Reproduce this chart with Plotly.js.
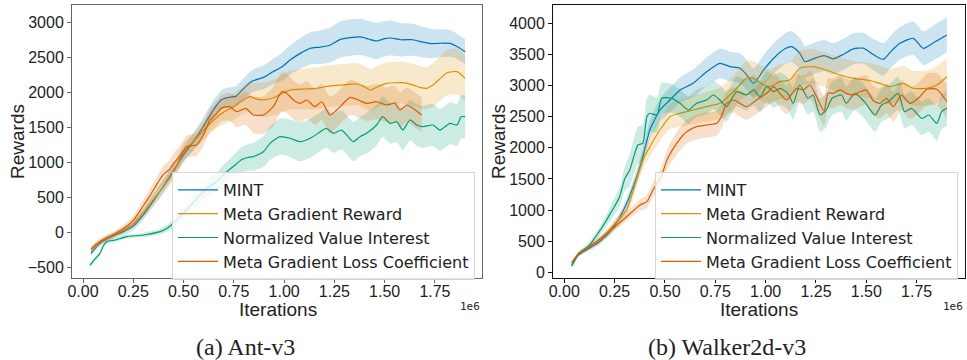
<!DOCTYPE html>
<html>
<head>
<meta charset="utf-8">
<script src="https://cdn.plot.ly/plotly-3.0.1.min.js"></script>
<style>html,body{margin:0;padding:0;background:#fff;}#chart{width:967px;height:360px;}</style>
</head>
<body>
<div id="chart"></div>
<script>
// ---- Data (x in units of 1e6 iterations) ----
const seriesNames = ["MINT", "Meta Gradient Reward", "Normalized Value Interest", "Meta Gradient Loss Coefficient"];
const seriesColors = ["#0173B2", "#DE8F05", "#029E73", "#D55E00"];
const bandColors = ["rgba(1,115,178,0.2)", "rgba(222,143,5,0.2)", "rgba(2,158,115,0.2)", "rgba(213,94,0,0.2)"];

// Ant-v3
const ant_mint_x = [0.04,0.08,0.12,0.16,0.20,0.25,0.30,0.35,0.40,0.45,0.50,0.55,0.60,0.65,0.69,0.73,0.76,0.80,0.84,0.90,0.94,0.99,1.03,1.08,1.13,1.18,1.23,1.28,1.34,1.38,1.42,1.46,1.50,1.53,1.58,1.64,1.69,1.73,1.78,1.83,1.87,1.90];
const ant_mint_y = [-300,-170,-90,-40,10,90,250,450,660,880,1110,1300,1520,1760,1900,1935,1945,2060,2160,2220,2290,2370,2465,2560,2632,2650,2680,2760,2790,2795,2765,2737,2770,2780,2755,2755,2720,2700,2705,2700,2640,2584];
const ant_mint_band = [40,40,40,40,50,60,70,80,90,100,110,120,130,135,140,140,145,150,160,170,180,200,210,220,230,240,250,260,260,260,260,260,250,250,240,230,220,210,200,190,180,180];

const ant_mgr_x = [0.04,0.08,0.12,0.16,0.20,0.25,0.30,0.35,0.40,0.45,0.50,0.55,0.60,0.65,0.70,0.75,0.80,0.83,0.86,0.90,0.96,1.00,1.03,1.10,1.16,1.22,1.29,1.36,1.40,1.43,1.47,1.51,1.59,1.64,1.675,1.71,1.74,1.78,1.81,1.86,1.90];
const ant_mgr_y = [-250,-150,-80,-30,30,120,280,470,650,860,1150,1300,1460,1607,1720,1800,1900,1940,1910,1895,1940,2000,2036,2050,2060,2090,2107,2122,2080,2036,2090,2131,2140,2110,2074,2060,2107,2210,2283,2298,2203];
const ant_mgr_band = [40,40,40,40,50,60,70,90,100,110,120,130,140,150,170,190,200,220,230,250,260,270,280,290,300,300,300,300,300,300,300,300,300,300,300,300,310,320,330,330,330];

const ant_nvi_x = [0.035,0.06,0.085,0.10,0.118,0.16,0.217,0.30,0.383,0.42,0.449,0.48,0.515,0.55,0.582,0.62,0.665,0.70,0.747,0.79,0.82,0.847,0.897,0.93,0.98,1.03,1.08,1.13,1.18,1.21,1.245,1.286,1.344,1.377,1.41,1.46,1.49,1.527,1.56,1.59,1.626,1.66,1.69,1.74,1.775,1.825,1.86,1.88,1.90];
const ant_nvi_y = [-468,-380,-300,-200,-134,-110,-63,-39,9,60,129,220,319,430,534,640,724,830,940,1040,1070,1082,1153,1273,1368,1345,1296,1345,1439,1488,1416,1463,1296,1368,1416,1535,1654,1559,1582,1463,1607,1535,1511,1535,1463,1559,1535,1654,1654];
const ant_nvi_band = [30,30,30,30,30,30,30,30,40,50,60,70,80,100,110,120,130,140,160,180,190,200,220,240,260,270,280,280,280,280,280,280,280,280,290,290,290,290,290,290,290,300,300,300,300,300,300,310,310];

const ant_mglc_x = [0.04,0.08,0.12,0.16,0.20,0.25,0.30,0.33,0.37,0.40,0.43,0.45,0.48,0.515,0.54,0.565,0.60,0.63,0.665,0.69,0.73,0.764,0.81,0.847,0.897,0.946,0.988,1.013,1.046,1.08,1.112,1.153,1.187,1.228,1.262,1.311,1.33,1.37,1.41,1.46,1.51,1.55,1.576,1.61,1.64,1.684];
const ant_mglc_y = [-240,-140,-80,-20,50,170,380,510,700,830,900,987,1080,1225,1240,1250,1400,1600,1700,1780,1797,1725,1774,1678,1678,1797,2011,1989,1893,1845,1893,1797,1868,1678,1750,1893,1931,1893,1845,1868,1821,1845,1750,1821,1774,1678];
const ant_mglc_band = [40,40,40,40,50,70,90,100,110,120,130,140,150,160,160,160,160,170,180,190,200,220,240,260,270,280,280,280,280,270,270,260,260,260,250,250,250,250,250,250,250,250,250,250,250,250];

// Walker2d-v3
const wlk_mint_x = [0.037,0.07,0.12,0.17,0.22,0.27,0.31,0.36,0.39,0.425,0.475,0.525,0.575,0.64,0.707,0.773,0.823,0.872,0.906,0.94,0.99,1.04,1.096,1.13,1.17,1.195,1.245,1.29,1.336,1.385,1.435,1.485,1.534,1.584,1.626,1.667,1.733,1.783,1.84,1.90];
const wlk_mint_y = [110,280,380,480,630,850,1108,1536,1850,2286,2607,2768,2929,3036,3222,3357,3303,3277,3170,3036,3250,3438,3590,3624,3518,3383,3440,3480,3430,3500,3590,3600,3500,3420,3560,3679,3759,3598,3700,3812];
const wlk_mint_band = [30,30,40,50,60,70,90,110,130,150,180,200,200,220,230,240,240,240,240,240,240,240,250,250,250,250,250,250,250,250,250,250,250,260,260,260,270,270,280,280];

const wlk_mgr_x = [0.037,0.07,0.12,0.17,0.22,0.27,0.31,0.36,0.39,0.425,0.475,0.525,0.575,0.64,0.707,0.773,0.84,0.906,0.94,0.99,1.02,1.07,1.12,1.17,1.236,1.30,1.37,1.435,1.50,1.567,1.617,1.683,1.733,1.80,1.85,1.90];
const wlk_mgr_y = [150,300,400,510,660,850,1000,1500,1800,2018,2286,2500,2554,2607,2661,2714,2900,3120,3116,3009,2982,3062,3089,3277,3303,3250,3170,3116,3089,3036,2982,3036,2956,2956,3009,3142];
const wlk_mgr_band = [30,30,40,50,60,80,100,120,140,160,180,200,220,230,240,250,260,270,280,280,280,280,280,280,280,280,280,280,280,280,280,280,280,290,300,300];

const wlk_nvi_x = [0.037,0.07,0.12,0.19,0.23,0.275,0.30,0.325,0.366,0.39,0.41,0.425,0.46,0.484,0.533,0.575,0.616,0.657,0.707,0.74,0.773,0.806,0.856,0.906,0.94,0.972,1.005,1.04,1.07,1.11,1.137,1.17,1.21,1.236,1.27,1.30,1.33,1.377,1.40,1.443,1.49,1.543,1.576,1.61,1.658,1.69,1.725,1.775,1.81,1.85,1.874,1.90];
const wlk_nvi_y = [100,290,420,733,950,1215,1500,1643,2045,2072,2500,2554,2527,2795,2795,2714,2607,2714,2768,2848,2768,2661,2902,2848,2929,2821,2982,2902,2955,2875,2714,3009,2795,2848,2527,2600,2795,2848,2714,2875,2741,2527,2687,2741,2875,2580,2634,2473,2527,2393,2580,2634];
const wlk_nvi_band = [30,40,50,80,120,150,200,250,300,300,300,300,280,250,230,220,220,220,230,230,240,240,240,250,250,250,250,260,260,260,260,260,260,270,270,270,270,270,270,270,270,270,270,270,270,270,270,270,270,280,280,280];

const wlk_mglc_x = [0.037,0.07,0.10,0.16,0.243,0.31,0.376,0.41,0.44,0.484,0.51,0.558,0.608,0.657,0.707,0.757,0.78,0.806,0.84,0.872,0.906,0.955,1.005,1.04,1.07,1.104,1.154,1.187,1.22,1.253,1.29,1.31,1.336,1.37,1.40,1.435,1.468,1.50,1.534,1.567,1.60,1.634,1.675,1.716,1.766,1.80,1.85,1.90];
const wlk_mglc_y = [150,290,360,492,707,893,1081,1134,1322,1560,1804,2072,2259,2339,2366,2393,2500,2714,2768,2714,2661,2768,2875,2982,2875,2768,2955,2929,3009,2821,2590,2880,2875,2929,2875,2850,2900,2929,2760,2714,2795,2661,2848,2714,2821,2940,2940,2741];
const wlk_mglc_band = [30,30,30,40,60,70,90,100,120,140,160,180,190,200,200,200,200,200,200,210,210,220,220,230,230,230,230,230,230,230,240,240,240,240,240,240,240,240,240,240,240,240,240,250,250,250,260,270];

const xTickVals = [0, 0.25, 0.5, 0.75, 1.0, 1.25, 1.5, 1.75];
const antYTicks = [-500, 0, 500, 1000, 1500, 2000, 2500, 3000];
const wlkYTicks = [0, 500, 1000, 1500, 2000, 2500, 3000, 3500, 4000];

// ---- Build traces ----
const traces = [];
function addSeries(x, y, band, idx, xa, ya, legendId) {
  const up = y.map((v, i) => v + band[i]);
  const lo = y.map((v, i) => v - band[i]);
  traces.push({x: x, y: up, xaxis: xa, yaxis: ya, mode: 'lines', line: {width: 0, color: seriesColors[idx], shape: 'spline', smoothing: 0.6}, showlegend: false, hoverinfo: 'skip'});
  traces.push({x: x, y: lo, xaxis: xa, yaxis: ya, mode: 'lines', line: {width: 0, color: seriesColors[idx], shape: 'spline', smoothing: 0.6}, fill: 'tonexty', fillcolor: bandColors[idx], showlegend: false, hoverinfo: 'skip'});
  traces.push({x: x, y: y, xaxis: xa, yaxis: ya, mode: 'lines', name: seriesNames[idx], legend: legendId, line: {width: 1.2, color: seriesColors[idx], shape: 'spline', smoothing: 0.6}});
}
addSeries(ant_mint_x, ant_mint_y, ant_mint_band, 0, 'x', 'y', 'legend');
addSeries(ant_mgr_x, ant_mgr_y, ant_mgr_band, 1, 'x', 'y', 'legend');
addSeries(ant_nvi_x, ant_nvi_y, ant_nvi_band, 2, 'x', 'y', 'legend');
addSeries(ant_mglc_x, ant_mglc_y, ant_mglc_band, 3, 'x', 'y', 'legend');
addSeries(wlk_mint_x, wlk_mint_y, wlk_mint_band, 0, 'x2', 'y2', 'legend2');
addSeries(wlk_mgr_x, wlk_mgr_y, wlk_mgr_band, 1, 'x2', 'y2', 'legend2');
addSeries(wlk_nvi_x, wlk_nvi_y, wlk_nvi_band, 2, 'x2', 'y2', 'legend2');
addSeries(wlk_mglc_x, wlk_mglc_y, wlk_mglc_band, 3, 'x2', 'y2', 'legend2');

const W = 967, H = 360, T = 5, B = 82;
const PH = H - T - B;
const px2x = p => p / W;
const px2y = p => (H - B - p) / PH;

const tickFont = {family: 'Liberation Sans, Arial, sans-serif', size: 16, color: '#222'};
const titleFont = {family: 'Liberation Sans, Arial, sans-serif', size: 19, color: '#222'};

function xAxis(domain, range, lc) {
  return {domain: domain, range: range, tickvals: xTickVals, tickformat: '.2f', ticks: 'outside', ticklen: 4, tickcolor: lc,
    ticklabelstandoff: -5,
    showline: true, linecolor: lc, linewidth: 1, mirror: true, showgrid: false, zeroline: false, tickfont: tickFont};
}
function yAxis(range, tv, lc, anchor) {
  return {range: range, tickvals: tv, ticks: 'outside', ticklen: 4, tickcolor: lc, anchor: anchor,
    showline: true, linecolor: lc, linewidth: 1, mirror: true, showgrid: false, zeroline: false, tickfont: tickFont};
}

const legendCommon = {xanchor: 'left', yanchor: 'top', traceorder: 'normal', itemwidth: 40,
  bgcolor: 'rgba(255,255,255,0.8)', bordercolor: '#d6d6d6', borderwidth: 1,
  font: {family: 'DejaVu Sans, sans-serif', size: 16, color: '#222'}};

function ann(text, x, y, font, extra) {
  return Object.assign({text: text, xref: 'paper', yref: 'paper', x: px2x(x), y: px2y(y), xanchor: 'center', yanchor: 'middle', showarrow: false, font: font}, extra || {});
}
const monoFont = {family: 'DejaVu Sans Mono, monospace', size: 11, color: '#222'};
const capFont = {family: 'Liberation Serif, Times New Roman, serif', size: 24, color: '#222'};

const layout = {
  width: W, height: H,
  margin: {l: 0, r: 0, t: T, b: B},
  paper_bgcolor: '#fff', plot_bgcolor: '#fff',
  xaxis: xAxis([px2x(72), px2x(482)], [-0.0547, 1.984], '#666'),
  yaxis: yAxis([-654, 3252], antYTicks, '#666', 'x'),
  xaxis2: xAxis([px2x(553), px2x(965)], [-0.056, 1.990], '#111'),
  yaxis2: yAxis([-92, 4294], wlkYTicks, '#111', 'x2'),
  legend: Object.assign({x: px2x(172), y: px2y(172)}, legendCommon),
  legend2: Object.assign({x: px2x(655), y: px2y(172)}, legendCommon),
  annotations: [
    ann('Iterations', 277.5, 309, titleFont),
    ann('Iterations', 759, 309, titleFont),
    ann('Rewards', 17, 142, titleFont, {textangle: -90}),
    ann('Rewards', 498, 142, titleFont, {textangle: -90}),
    ann('1e6', 482, 306, monoFont, {xanchor: 'right'}),
    ann('1e6', 965, 306, monoFont, {xanchor: 'right'}),
    ann('(a) Ant-v3', 245, 347, capFont),
    ann('(b) Walker2d-v3', 727, 347, capFont)
  ]
};

Plotly.newPlot('chart', traces, layout, {displayModeBar: false, staticPlot: true});
</script>
</body>
</html>
